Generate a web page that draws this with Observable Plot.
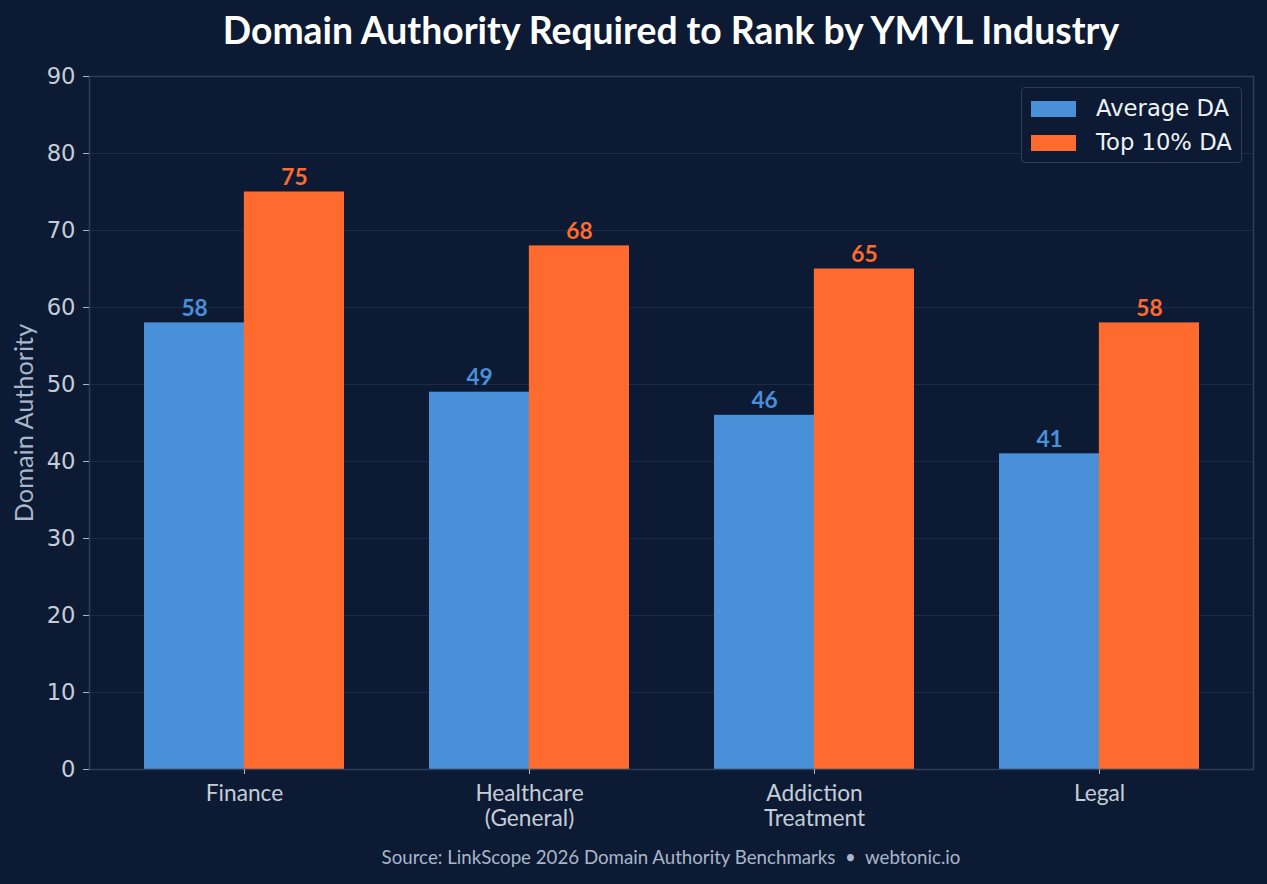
<!DOCTYPE html>
<html>
<head>
<meta charset="utf-8">
<script src="https://cdn.jsdelivr.net/npm/d3@7"></script>
<script src="https://cdn.jsdelivr.net/npm/@observablehq/plot@0.6"></script>
<style>
  html, body { margin: 0; padding: 0; background: #0c1b33; }
  #wrap { position: relative; width: 1267px; height: 884px; background: #0c1b33; overflow: hidden; }
  #title { height: 60px; line-height: 60px; width: 1164px; margin-left: 89px; text-align: center;
           color: #ffffff; font-family: Lato, sans-serif; font-weight: 700; font-size: 37.3px;
           white-space: nowrap; }
  #caption { position: absolute; left: 89px; top: 846px; width: 1164px; text-align: center;
             font-family: Lato, sans-serif; font-size: 18.7px; color: #a9b6c9; white-space: nowrap; }
  #legend { position: absolute; left: 1021px; top: 87px; width: 219px; height: 74px;
            border: 1px solid #2e3e5a; border-radius: 4px; background: #0c1b33;
            font-family: "DejaVu Sans", sans-serif; font-size: 22.7px; color: #eef2f7; }
  .item { position: absolute; left: 9px; height: 24px; line-height: 24px; white-space: nowrap; }
  .sw { display: inline-block; width: 45px; height: 16px; vertical-align: middle; margin-right: 20px;
        position: relative; top: -1px; }
</style>
</head>
<body>
<div id="wrap">
  <div id="title">Domain Authority Required to Rank by YMYL Industry</div>
  <div id="chart"></div>
  <div id="legend"></div>
  <div id="caption">Source: LinkScope 2026 Domain Authority Benchmarks&nbsp; •&nbsp; webtonic.io</div>
</div>
<script>
// Industries and their domain authority benchmarks
const categories = ["Finance", "Healthcare\n(General)", "Addiction\nTreatment", "Legal"];
const averageDA = [58, 49, 46, 41];
const top10DA = [75, 68, 65, 58];
const seriesNames = ["Average DA", "Top 10% DA"];
const seriesColors = ["#4a90d9", "#ff6b2e"];
const yTicks = [0, 10, 20, 30, 40, 50, 60, 70, 80, 90];

const W = 1267, H = 775;
const margin = {top: 16, right: 14, bottom: 66, left: 89};
const padInner = 0.3, padOuter = 0.19;

// width of one industry group, so each series takes half of it
const bandwidth = d3.scaleBand()
  .domain(categories)
  .range([margin.left, W - margin.right])
  .paddingInner(padInner)
  .paddingOuter(padOuter)
  .bandwidth();
const half = bandwidth / 2;

const avgRows = categories.map((c, i) => ({industry: c, value: averageDA[i]}));
const topRows = categories.map((c, i) => ({industry: c, value: top10DA[i]}));

const chart = Plot.plot({
  width: W,
  height: H,
  marginTop: margin.top,
  marginRight: margin.right,
  marginBottom: margin.bottom,
  marginLeft: margin.left,
  style: {background: "transparent", color: "#c5cdd8", fontFamily: "Lato, sans-serif"},
  x: {type: "band", domain: categories, paddingInner: padInner, paddingOuter: padOuter},
  y: {domain: [0, 90]},
  marks: [
    Plot.gridY(yTicks, {stroke: "#1c2b45", strokeOpacity: 1, strokeWidth: 1}),
    Plot.barY(avgRows, {x: "industry", y: "value", fill: seriesColors[0], insetRight: half}),
    Plot.barY(topRows, {x: "industry", y: "value", fill: seriesColors[1], insetLeft: half}),
    Plot.text(avgRows, {x: "industry", y: "value", text: "value", dx: -half / 2, dy: -7,
      lineAnchor: "bottom", fill: seriesColors[0], fontFamily: "Lato, sans-serif",
      fontWeight: 700, fontSize: 22.7}),
    Plot.text(topRows, {x: "industry", y: "value", text: "value", dx: half / 2, dy: -7,
      lineAnchor: "bottom", fill: seriesColors[1], fontFamily: "Lato, sans-serif",
      fontWeight: 700, fontSize: 22.7}),
    Plot.frame({stroke: "#2e3e5a", strokeWidth: 1.5}),
    Plot.axisY(yTicks, {tickSize: 6, tickPadding: 8, stroke: "#aab6c6", fill: "#c5cdd8",
      fontFamily: "DejaVu Sans, sans-serif", fontSize: 22.7, label: null}),
    Plot.axisX({tickSize: 5, tickPadding: 9, stroke: "#aab6c6", fill: "#c5cdd8",
      fontFamily: "Lato, sans-serif", fontSize: 22.7, lineHeight: 1.1, label: null}),
    Plot.text(["Domain Authority"], {frameAnchor: "left", dx: -65, rotate: -90,
      textAnchor: "middle", fill: "#a9b6c9", fontFamily: "Lato, sans-serif", fontSize: 25.3})
  ]
});
document.getElementById("chart").appendChild(chart);

// legend
const legend = document.getElementById("legend");
seriesNames.forEach((name, i) => {
  const item = document.createElement("div");
  item.className = "item";
  item.style.top = (i === 0 ? 8 : 42) + "px";
  const sw = document.createElement("span");
  sw.className = "sw";
  sw.style.background = seriesColors[i];
  item.appendChild(sw);
  item.appendChild(document.createTextNode(name));
  legend.appendChild(item);
});
</script>
</body>
</html>
